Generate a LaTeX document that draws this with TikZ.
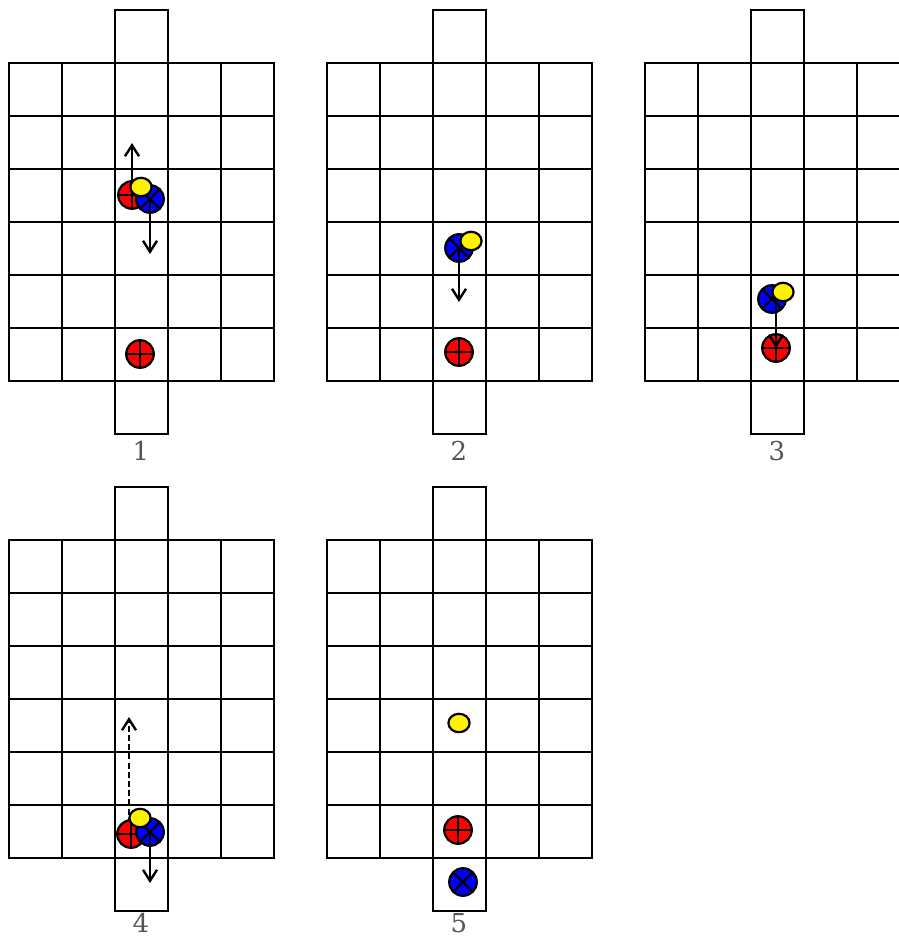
\documentclass[tikz,border=0pt]{standalone}
\usepackage{xcolor}
\usepackage{fontspec}
\usetikzlibrary{arrows.meta, shapes.geometric}

\newfontfamily\numfont{DejaVu Serif}
\definecolor{labgray}{HTML}{555555}

\begin{document}
\begin{tikzpicture}[x=0.5pt, y=-0.5pt,
  board/.style={line width=1.2pt, line cap=rect},
  tok/.style={draw, line width=1.1pt, inner sep=0pt},
  redtok/.style={tok, circle, fill=red, minimum size=13.8pt,
    path picture={\draw[line width=1.1pt]
      (path picture bounding box.north) -- (path picture bounding box.south)
      (path picture bounding box.west) -- (path picture bounding box.east);}},
  bluetok/.style={tok, circle, fill=blue, minimum size=13.8pt,
    path picture={\draw[line width=1.1pt]
      (path picture bounding box.north west) -- (path picture bounding box.south east)
      (path picture bounding box.north east) -- (path picture bounding box.south west);}},
  yeltok/.style={tok, ellipse, fill=yellow, minimum width=10.6pt, minimum height=9.2pt},
  move/.style={line width=1.2pt, -{Straight Barb[length=5.5pt, width=7pt]}},
  maybe/.style={move, dash pattern=on 3pt off 1.6pt},
  num/.style={text=labgray, font=\numfont\fontsize{13}{15}\selectfont, inner sep=0pt}]
\useasboundingbox (0,0) rectangle (899,937);
\clip (0,0) rectangle (899,937);

% the five boards
\foreach \ox/\oy/\ly/\n in {9/63/451/1, 327/63/451/2, 645/63/451/3, 9/540/923/4, 327/540/923/5} {
  \foreach \i in {0,...,5}
    \draw[board] (\ox+\i*53, \oy) -- (\ox+\i*53, \oy+318);
  \foreach \j in {0,...,6}
    \draw[board] (\ox, \oy+\j*53) -- (\ox+265, \oy+\j*53);
  \draw[board] (\ox+106, \oy) -- (\ox+106, \oy-53) -- (\ox+159, \oy-53) -- (\ox+159, \oy);
  \draw[board] (\ox+106, \oy+318) -- (\ox+106, \oy+371) -- (\ox+159, \oy+371) -- (\ox+159, \oy+318);
  \node[num] (lab\n) at (\ox+132, \ly) {\n};
}

% step 1
\coordinate (up1) at (132,143);
\coordinate (dn1) at (150,254);
\node[redtok] (red1) at (132,195) {};
\draw[move] (red1.center) -- (up1);
\node[redtok] (goal1) at (140,354) {};
\node[bluetok] (blue1) at (150,199) {};
\draw[move] (blue1.center) -- (dn1);
\node[yeltok] (yel1) at (141,187) {};

% step 2
\coordinate (dn2) at (459,302);
\node[redtok] (red2) at (459,352) {};
\node[bluetok] (blue2) at (459,248) {};
\draw[move] (blue2.center) -- (dn2);
\node[yeltok] (yel2) at (471,241) {};

% step 3
\node[redtok] (red3) at (776,348) {};
\node[bluetok] (blue3) at (772,299) {};
\draw[move] (red3 |- blue3) -- (red3.center);
\node[yeltok] (yel3) at (783,292) {};

% step 4
\coordinate (up4) at (129,717);
\coordinate (dn4) at (150,883);
\draw[maybe] (129,833) -- (up4);
\node[redtok] (red4) at (131,834) {};
\node[bluetok] (blue4) at (150,832) {};
\draw[move] (blue4.center) -- (dn4);
\node[yeltok] (yel4) at (140,818) {};

% step 5
\node[yeltok] (yel5) at (459,723) {};
\node[redtok] (red5) at (458,830) {};
\node[bluetok] (blue5) at (463,882) {};
\end{tikzpicture}
\end{document}
